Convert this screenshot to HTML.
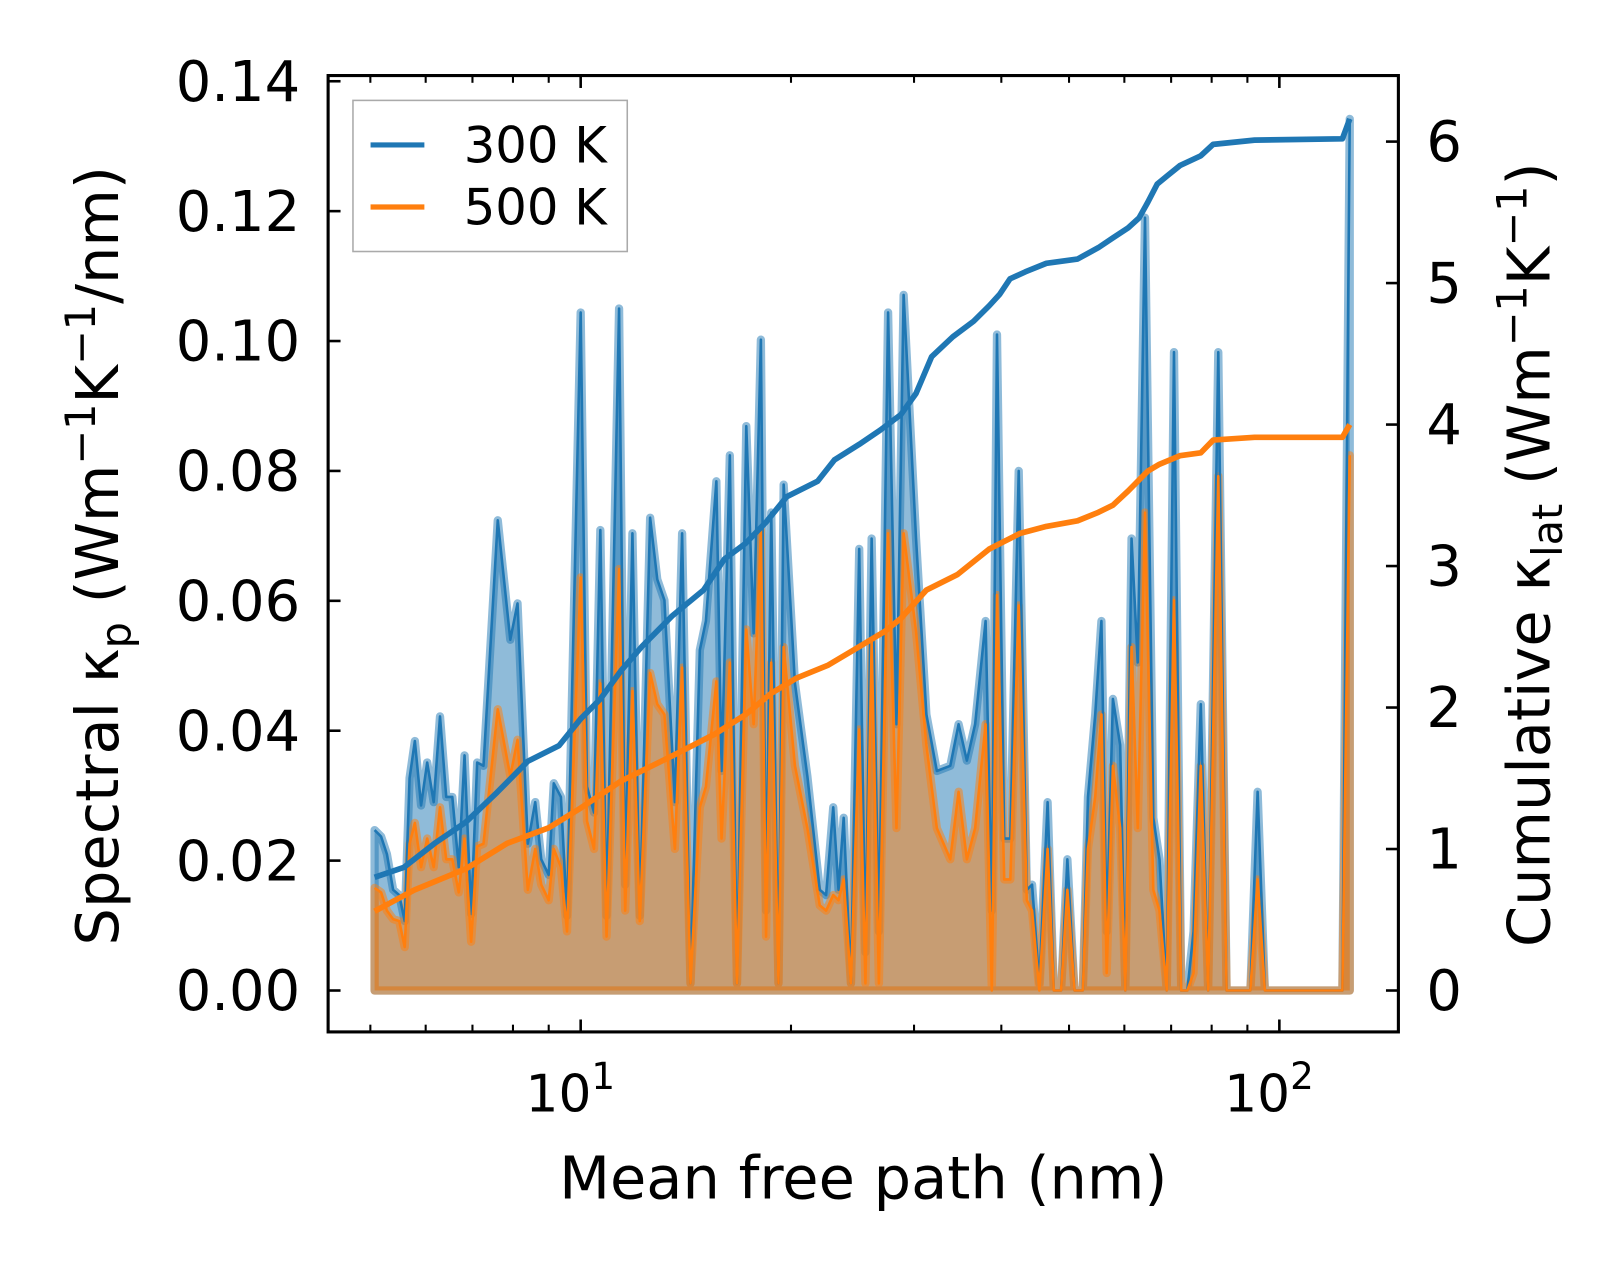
<!DOCTYPE html>
<html><head><meta charset="utf-8">
<style>
html,body{margin:0;padding:0;background:#fff;}
svg text{font-family:"DejaVu Sans","Liberation Sans",sans-serif;fill:#000;}
</style></head>
<body>
<svg id="chart" width="1623" height="1271" viewBox="0 0 1568 1228" preserveAspectRatio="none" xmlns="http://www.w3.org/2000/svg" style="position:absolute;left:0;top:0">
<g id="marks"></g>
<g id="axes"></g>
</svg>
<script>
const mfp = [5.07,5.18,5.28,5.39,5.50,5.60,5.69,5.79,5.91,6.03,6.16,6.29,6.42,6.55,6.69,6.82,6.97,7.11,7.26,7.61,7.93,8.12,8.40,8.61,8.78,9.00,9.15,9.37,9.56,10.00,10.21,10.45,10.67,10.89,11.35,11.58,11.86,12.15,12.57,12.87,13.18,13.64,13.97,14.36,14.81,15.11,15.64,15.91,16.35,16.74,17.26,17.68,18.11,18.42,18.74,19.19,19.52,20.26,21.11,21.99,22.45,22.99,23.39,23.79,24.37,25.04,25.56,26.09,26.72,27.54,28.31,28.99,30.20,31.25,32.34,33.81,34.74,35.71,36.70,37.98,38.77,39.43,40.38,41.21,42.36,43.51,44.26,45.34,46.59,47.55,48.71,49.72,50.92,52.32,53.22,54.51,55.64,56.60,57.78,59.18,60.20,61.43,62.70,64.22,66.00,67.36,68.99,70.66,72.37,73.85,75.37,77.20,79.07,81.77,84.04,90.90,93.10,95.34,123.1,126.1];
const spec300 = [0.0247,0.0237,0.0210,0.0155,0.0147,0.0107,0.0327,0.0384,0.0285,0.0351,0.0290,0.0422,0.0298,0.0298,0.0190,0.0362,0.0118,0.0351,0.0346,0.0724,0.0540,0.0596,0.0226,0.0290,0.0202,0.0178,0.0319,0.0298,0.0115,0.1044,0.0314,0.0274,0.0709,0.0115,0.1050,0.0163,0.0704,0.0115,0.0728,0.0633,0.0601,0.0290,0.0704,0.0011,0.0524,0.0569,0.0784,0.0338,0.0824,0.0011,0.0869,0.0550,0.1002,0.0123,0.0736,0.0011,0.0779,0.0473,0.0330,0.0155,0.0147,0.0282,0.0155,0.0266,0.0011,0.0680,0.0059,0.0696,0.0091,0.1044,0.0410,0.1071,0.0696,0.0425,0.0338,0.0346,0.0410,0.0354,0.0410,0.0569,0.0123,0.1010,0.0234,0.0234,0.0800,0.0155,0.0163,0.0011,0.0290,0,0,0.0202,0,0,0.0298,0.0425,0.0569,0.0091,0.0449,0.0378,0,0.0696,0.0505,0.1190,0.0266,0.0202,0,0.0983,0,0,0.0091,0.0441,0,0.0983,0,0,0.0306,0,0,0.1342];
const spec500 = [0.0158,0.0151,0.0123,0.0110,0.0107,0.0067,0.0226,0.0258,0.0190,0.0234,0.0190,0.0282,0.0202,0.0202,0.0151,0.0234,0.0075,0.0222,0.0226,0.0433,0.0330,0.0386,0.0155,0.0218,0.0163,0.0139,0.0218,0.0190,0.0091,0.0636,0.0261,0.0218,0.0473,0.0083,0.0649,0.0123,0.0461,0.0107,0.0489,0.0441,0.0425,0.0218,0.0497,0.0011,0.0282,0.0314,0.0476,0.0234,0.0505,0.0011,0.0556,0.0410,0.0709,0.0083,0.0505,0.0011,0.0529,0.0346,0.0250,0.0131,0.0123,0.0147,0.0139,0.0171,0.0011,0.0402,0.0011,0.0537,0.0011,0.0704,0.0250,0.0704,0.0553,0.0378,0.0250,0.0202,0.0306,0.0202,0.0250,0.0410,0,0.0609,0.0171,0.0171,0.0593,0.0139,0.0123,0,0.0218,0,0,0.0155,0,0,0.0218,0.0298,0.0425,0.0027,0.0346,0.0250,0,0.0529,0.0250,0.0736,0.0155,0.0123,0,0.0601,0,0,0.0027,0.0346,0,0.0792,0,0,0.0171,0,0,0.0824];
const cumMfp300 = [5.07,5.58,6.18,6.85,7.59,8.40,9.31,10.0,10.67,11.42,12.23,13.54,14.99,16.06,17.22,18.42,19.72,21.84,23.07,25.04,26.82,28.72,30.20,31.80,34.09,36.51,38.44,39.78,41.17,43.31,46.40,51.42,55.07,57.78,60.76,62.96,64.80,66.87,69.18,72.06,77.20,80.39,92.13,123.1,126.1];
const cum300 = [0.80,0.87,1.04,1.19,1.40,1.62,1.73,1.92,2.06,2.26,2.43,2.65,2.83,3.05,3.16,3.31,3.49,3.60,3.75,3.86,3.96,4.07,4.22,4.48,4.62,4.73,4.84,4.92,5.03,5.08,5.14,5.17,5.25,5.32,5.39,5.46,5.57,5.70,5.76,5.83,5.90,5.98,6.01,6.02,6.16];
const cumMfp500 = [5.07,5.78,6.85,7.85,9.00,10.0,11.42,13.54,15.53,17.22,18.74,20.40,22.61,25.04,27.27,28.72,31.25,34.62,38.44,42.49,46.40,51.42,55.07,57.78,60.76,64.80,67.36,72.06,77.20,80.39,92.13,123.1,126.1];
const cum500 = [0.56,0.71,0.86,1.04,1.15,1.29,1.48,1.66,1.81,1.95,2.10,2.21,2.30,2.43,2.54,2.63,2.83,2.94,3.12,3.23,3.28,3.32,3.38,3.43,3.53,3.67,3.72,3.78,3.80,3.89,3.91,3.91,4.00];
const leftTicks = [0,0.02,0.04,0.06,0.08,0.10,0.12,0.14];
const leftTickLabels = ["0.00","0.02","0.04","0.06","0.08","0.10","0.12","0.14"];
const rightTicks = [0,1,2,3,4,5,6];
const xMajor = [10,100];
const xMinor = [5,6,7,8,9,20,30,40,50,60,70,80,90];

const L=317,R=1351,T=73,B=997;
const xs = v => 561 + (Math.log10(v)-1)*675;
const yl = v => 957 - v*6275;
const yr = v => 957 - v*136.7;
const NS="http://www.w3.org/2000/svg";
const marks=document.getElementById('marks'), axes=document.getElementById('axes');
function mk(tag,attrs,parent){const e=document.createElementNS(NS,tag);for(const k in attrs)e.setAttribute(k,attrs[k]);parent.appendChild(e);return e;}

function specPts(vals){return mfp.map((m,i)=>xs(m).toFixed(1)+','+yl(vals[i]).toFixed(1));}
function areaPath(vals){const p=specPts(vals);return 'M'+xs(mfp[0]).toFixed(1)+','+yl(0)+' L'+p.join(' L')+' L'+xs(mfp[mfp.length-1]).toFixed(1)+','+yl(0)+' Z';}

const cp=mk('clipPath',{id:'clip'},marks);mk('rect',{x:L,y:T,width:R-L,height:B-T},cp);
const g=mk('g',{'clip-path':'url(#clip)'},marks);

let e;
e=mk('path',{d:areaPath(spec300),fill:'#1f77b4','fill-opacity':0.5,stroke:'#1f77b4','stroke-opacity':0.5,'stroke-width':8,'stroke-linejoin':'round'},g);


e=mk('path',{d:areaPath(spec500),fill:'#ff7f0e','fill-opacity':0.5,stroke:'#ff7f0e','stroke-opacity':0.5,'stroke-width':8,'stroke-linejoin':'round'},g);


e=mk('polyline',{points:specPts(spec300).join(' '),fill:'none',stroke:'#1f77b4','stroke-width':2.5,'stroke-linejoin':'round'},g);


e=mk('polyline',{points:specPts(spec500).join(' '),fill:'none',stroke:'#ff7f0e','stroke-width':2.5,'stroke-linejoin':'round'},g);


e=mk('polyline',{points:cumMfp300.map((m,i)=>xs(m).toFixed(1)+','+yr(cum300[i]).toFixed(1)).join(' '),fill:'none',stroke:'#1f77b4','stroke-width':5.5,'stroke-linejoin':'round'},g);


e=mk('polyline',{points:cumMfp500.map((m,i)=>xs(m).toFixed(1)+','+yr(cum500[i]).toFixed(1)).join(' '),fill:'none',stroke:'#ff7f0e','stroke-width':5.5,'stroke-linejoin':'round'},g);



e=mk('rect',{x:L,y:T,width:R-L,height:B-T,fill:'none',stroke:'#000','stroke-width':3},axes);


leftTicks.forEach((v,i)=>{
  const y=yl(v);
  mk('line',{x1:L,x2:L+12,y1:y,y2:y,stroke:'#000','stroke-width':2.5},axes);
  const t=mk('text',{x:290,y:y+19,'text-anchor':'end','font-size':54},axes);
  t.textContent=leftTickLabels[i];
  
  
});
rightTicks.forEach(v=>{
  const y=yr(v);
  mk('line',{x1:R-12,x2:R,y1:y,y2:y,stroke:'#000','stroke-width':2.5},axes);
  const t=mk('text',{x:1378,y:y+19,'text-anchor':'start','font-size':54},axes);
  t.textContent=String(v);
  
  
});
xMajor.forEach(v=>{
  const x=xs(v);
  mk('line',{x1:x,x2:x,y1:B-12,y2:B,stroke:'#000','stroke-width':2.5},axes);
  mk('line',{x1:x,x2:x,y1:T,y2:T+12,stroke:'#000','stroke-width':2.5},axes);
  const t=mk('text',{x:x-10,y:1074,'text-anchor':'middle','font-size':50},axes);
  t.textContent='10';
  const s=mk('tspan',{dy:-22,'font-size':36},t);s.textContent=String(Math.round(Math.log10(v)));
  
  
});
xMinor.forEach(v=>{
  const x=xs(v);
  mk('line',{x1:x,x2:x,y1:B-7,y2:B,stroke:'#000','stroke-width':2},axes);
  mk('line',{x1:x,x2:x,y1:T,y2:T+7,stroke:'#000','stroke-width':2},axes);
});
</script>
<svg style="position:absolute;left:0;top:0" width="1623" height="1271" viewBox="0 0 1568 1228" preserveAspectRatio="none" xmlns="http://www.w3.org/2000/svg">
<text x="834" y="1158" text-anchor="middle" font-size="57" style="font-family:'DejaVu Sans','Liberation Sans',sans-serif">Mean free path (nm)</text>
<text transform="translate(114,537) rotate(-90)" text-anchor="middle" font-size="57" style="font-family:'DejaVu Sans','Liberation Sans',sans-serif">Spectral κ<tspan font-size="40" dy="12">p</tspan><tspan dy="-12"> (Wm</tspan><tspan font-size="40" dy="-22">−1</tspan><tspan dy="22">K</tspan><tspan font-size="40" dy="-22">−1</tspan><tspan dy="22">/nm)</tspan></text>
<text transform="translate(1497,536) rotate(-90)" text-anchor="middle" font-size="57" style="font-family:'DejaVu Sans','Liberation Sans',sans-serif">Cumulative κ<tspan font-size="40" dy="12">lat</tspan><tspan dy="-12"> (Wm</tspan><tspan font-size="40" dy="-22">−1</tspan><tspan dy="22">K</tspan><tspan font-size="40" dy="-22">−1</tspan><tspan dy="22">)</tspan></text>
<g>
<rect x="341" y="97" width="265" height="146" fill="#fff" fill-opacity="0.8" stroke="#aaa" stroke-width="1.5"/>
<line x1="358" y1="140" x2="410" y2="140" stroke="#1f77b4" stroke-width="5"/>
<text x="448" y="157" font-size="48" style="font-family:'DejaVu Sans','Liberation Sans',sans-serif">300 K</text>
<line x1="358" y1="200" x2="410" y2="200" stroke="#ff7f0e" stroke-width="5"/>
<text x="448" y="217" font-size="48" style="font-family:'DejaVu Sans','Liberation Sans',sans-serif">500 K</text>
</g>
</svg>
</body></html>
